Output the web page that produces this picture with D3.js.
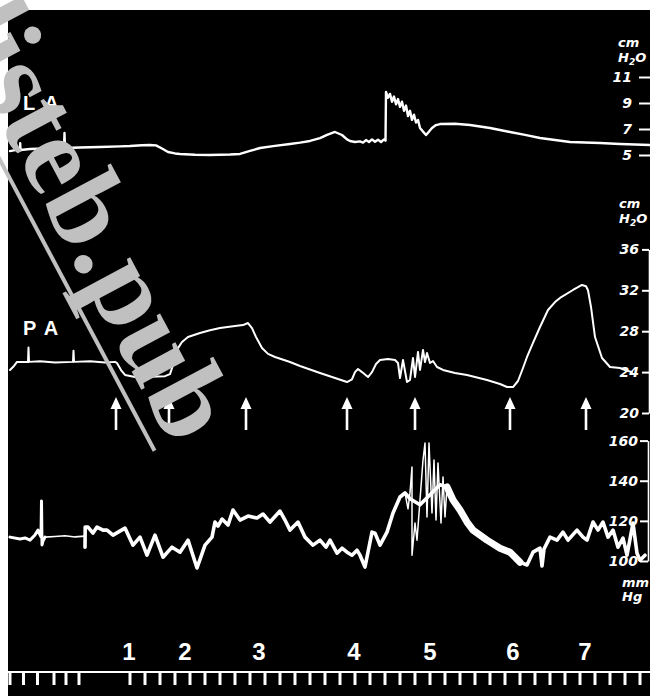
<!DOCTYPE html>
<html><head><meta charset="utf-8">
<script src="https://cdn.jsdelivr.net/npm/d3@7"></script>
<style>
html,body{margin:0;padding:0;background:#fff;}
svg{display:block;}
</style></head>
<body>
<svg id="c" width="650" height="696"></svg>
<script>
// ---------- DATA (time in s, pressures in cm H2O / mm Hg) ----------
const laTicks = [5, 7, 9, 11];
const paTicks = [20, 24, 28, 32, 36];
const bpTicks = [100, 120, 140, 160];

const laTrace = [[0,5.3],[0.5,5.38],[1.0,5.38],[1.02,5.9],[1.05,5.38],[2,5.46],[3.5,5.5],[5.0,5.54],[5.4,5.54],[5.45,6.69],[5.5,5.54],
 [7,5.58],[9,5.62],[11,5.66],[12,5.69],[13.2,5.75],[14,5.77],[14.6,5.74],[15.2,5.5],[15.8,5.23],[16.5,5.12],[17,5.08],[18.5,5.02],
 [20,5.0],[22,5.04],[23,5.08],[24,5.31],[25,5.54],[26.5,5.7],[28,5.85],[29,5.95],[30,6.08],[31,6.3],[31.7,6.55],[32.5,6.77],
 [33.2,6.54],[33.7,6.2],[34,6.08],[34.5,6.0],[35,6.05],[35.3,5.95],[35.6,6.15],[35.9,6.0],[36.2,6.2],[36.5,6.02],[36.8,6.18],
 [37.1,6.0],[37.4,6.2],[37.55,6.1],[37.6,9.85],[37.8,9.4],[38.0,9.7],[38.2,9.1],[38.4,9.5],[38.6,8.9],[38.8,9.3],[39.0,8.7],
 [39.2,9.1],[39.4,8.4],[39.6,8.8],[39.8,8.0],[40.0,8.4],[40.2,7.7],[40.4,8.1],[40.6,7.5],[40.8,7.7],[41.0,7.08],[41.3,6.8],
 [41.6,6.54],[41.9,6.8],[42.2,7.08],[42.6,7.3],[43,7.38],[44.5,7.4],[46,7.31],[48,7.08],[50,6.77],[51.5,6.55],[53,6.31],
 [54.5,6.15],[56,6.0],[59,5.92],[61,5.85],[64,5.77]];

const paTrace = [[0,24.2],[0.4,24.6],[0.7,25.0],[1.8,25.0],[1.85,26.4],[1.9,25.0],[3,25.05],[4.5,24.95],[6.3,25.0],[6.35,26.1],[6.4,25.0],
 [8,25.05],[9.5,24.95],[10.5,25.0],[10.7,24.89],[11.1,24.2],[11.5,23.72],[12.5,23.52],[14,23.55],[15.5,23.6],[16,23.8],[16.3,24.7],
 [16.7,26.2],[17.2,26.95],[17.8,27.43],[19,27.82],[20,28.1],[21,28.31],[22.5,28.51],[23.3,28.6],[23.8,28.8],[24.2,28.3],[24.6,27.43],
 [25.2,26.36],[25.8,25.78],[26.5,25.48],[28,24.99],[29,24.6],[31,23.91],[32.5,23.42],[33.7,23.03],[34.2,23.3],[34.5,24.0],[34.8,24.3],
 [35.2,24.0],[35.8,23.52],[36.2,24.0],[36.6,24.79],[37,25.18],[37.8,25.28],[38.5,25.18],[38.8,24.89],[39.0,23.42],[39.3,25.18],
 [39.7,23.03],[40.0,23.23],[40.3,25.38],[40.5,23.52],[40.8,25.97],[41.0,24.21],[41.3,26.16],[41.5,24.99],[41.7,25.87],[42.0,24.89],
 [42.3,25.08],[42.7,24.5],[43.3,24.21],[44.5,23.91],[45.7,23.72],[47.7,23.23],[49,22.84],[49.7,22.54],[50.3,22.54],[50.8,23.13],
 [51.3,24.4],[51.7,25.48],[52.3,26.85],[53,28.41],[53.8,30.07],[54.5,30.85],[55,31.25],[56.3,32.03],[57.2,32.52],[57.6,32.4],
 [57.8,32.0],[58.1,30.37],[58.5,27.43],[59.2,25.38],[60,24.5],[61,24.4],[61.5,24.2],[62.2,24.0]];

const bpStart = [[0,111.9],[1,111.0],[1.5,111.5],[2,110.4],[2.5,113],[2.8,115.4],[3.0,113],[3.1,112],[3.15,129.9],[3.2,108],[3.3,110],[3.5,111.9]];
const bpQuiet = [[3.5,111.9],[4.5,112.2],[5.5,112.6],[6.5,112.0],[7.5,112.4]];
const bpMain = [[7.5,106.9],[7.52,116.9],[7.8,116.9],[8.3,113.9],[8.7,116.9],[9.3,115.4],[9.7,115.4],[10.3,112.9],[11.5,116.4],
 [12.3,107.9],[13,111.9],[13.7,102.9],[14.5,112.9],[15.3,101.9],[16.2,106.9],[17,104.4],[17.8,110.4],[18.7,96.5],[19.5,107.9],
 [20.2,111.9],[20.5,119.4],[20.8,117.4],[21.2,120.9],[21.8,117.9],[22.3,125.4],[23,120.4],[23.8,122.4],[24.7,121.4],[25.3,123.4],
 [26,119.4],[27,124.9],[27.5,120.4],[28,115.4],[28.8,119.4],[29.5,111.9],[30.3,107.9],[31,110.4],[31.6,106.9],[32,110.4],
 [32.7,103.9],[33.2,106.4],[33.7,104.4],[34.2,102.9],[34.7,105.4],[35,102.9],[35.5,97.0],[36.2,114.4],[36.5,113.9],[37,107.9],
 [37.7,114.4],[38.3,123.9],[39,131.9],[39.5,133.9],[40,131],[41,128],[42,133],[43,138],[43.7,136.9],[44.3,130.4],[45,125.4],
 [45.7,119.4],[46.3,115.4],[47.7,110.4],[49,106.4],[50,104.4],[51,99.4],[51.7,98.0],[52.3,104.4],[53,106.4],[53.2,97.5],[53.4,106],
 [54,111.9],[54.7,110.4],[55.3,114.4],[55.8,110.4],[56.7,115.4],[57.3,111.9],[57.7,110.4],[58.3,119.4],[58.8,115.4],[59.3,119.4],
 [59.8,111.9],[60.3,115.4],[60.8,106.9],[61.3,111.4],[61.7,102.9],[62.3,118.9],[62.7,103.9],[63,100.4],[63.5,102.9]];
const bpBurst = [[39.5,133.9],[39.8,126],[40.0,134],[40.2,146.8],[40.2,102.9],[40.5,118.9],[40.7,110.4],[41.0,130.4],[41.3,150.3],
 [41.5,158.8],[41.7,121.9],[41.9,158.8],[42.2,123.9],[42.4,150.3],[42.6,120.4],[42.8,148.8],[43.1,118.9],[43.3,141.8],[43.5,121.9],[43.7,136.9]];

const arrowTimes = [10.6, 15.9, 23.6, 33.7, 40.5, 50.0, 57.6];
const eventLabels = ["1","2","3","4","5","6","7"];
const eventLabelTimes = [11.9, 17.5, 24.9, 34.4, 42.0, 50.3, 57.5];
const rulerTicks = [0,1.35,2.75,4.4,5.6,6.9,12,13.5,15,16.5,18,19.5,21,22.5,24,25.5,27,28.5,30,31.5,33,34.5,36,37.5,39,40.5,
 42,43.5,45,46.5,48,49.5,51,52.5,54,55.5,57,58.5,60,61.5,63];

// ---------- DRAW ----------
const svg = d3.select("#c");
svg.append("rect").attr("x",8).attr("y",10).attr("width",642).attr("height",686).attr("fill","#000");

const x = d3.scaleLinear().domain([0,64]).range([10,650]);
const laY = d3.scaleLinear().domain([5,11]).range([155,77]);
const paY = d3.scaleLinear().domain([20,36]).range([413,249.4]);
const bpY = d3.scaleLinear().domain([100,160]).range([561,440.6]);

const lineFor = y => d3.line().x(d=>x(d[0])).y(d=>y(d[1]));
const trace = (data, y, w) => svg.append("path").datum(data).attr("d", lineFor(y))
  .attr("fill","none").attr("stroke","#fff").attr("stroke-width",w)
  .attr("stroke-linejoin","round").attr("stroke-linecap","round");

trace(laTrace, laY, 2.4);
trace(paTrace, paY, 2);
trace(bpStart, bpY, 3);
trace(bpQuiet, bpY, 1.6);
trace(bpMain, bpY, 3.6);
trace(bpMain.filter(d=>d[0]>=43.5 && d[0]<=51.5), bpY, 7);
trace(bpBurst, bpY, 1.5);

// channel labels
const lab = (yy, s) => svg.append("text").attr("x",23).attr("y",yy).text(s)
  .attr("fill","#fff").attr("font-family","Liberation Sans, Arial, sans-serif")
  .attr("font-weight","bold").attr("font-size",20).attr("letter-spacing",9);
lab(110,"LA");
lab(335,"PA");

// axes
const hand = "DejaVu Sans, sans-serif";
const fmt = d3.format("d");
function styleAxis(g, keepDomain){
  g.selectAll("text").attr("fill","#fff").attr("font-family",hand).attr("font-style","italic")
    .attr("font-weight","bold").attr("font-size",14);
  g.selectAll("line").attr("stroke","#fff").attr("stroke-width",2);
  g.select(".domain").attr("stroke", keepDomain ? "#fff" : "none").attr("stroke-width",1.6);
}
const laAxis = svg.append("g").attr("transform","translate(650,0)")
  .call(d3.axisLeft(laY).tickValues(laTicks).tickFormat(fmt).tickSize(11).tickPadding(7).tickSizeOuter(0));
styleAxis(laAxis,false);
const paAxis = svg.append("g").attr("transform","translate(649,0)")
  .call(d3.axisLeft(paY).tickValues(paTicks).tickFormat(fmt).tickSize(7).tickPadding(3).tickSizeOuter(0));
styleAxis(paAxis,true);
const bpAxis = svg.append("g").attr("transform","translate(648,0)")
  .call(d3.axisLeft(bpY).tickValues(bpTicks).tickFormat(fmt).tickSize(8).tickPadding(2).tickSizeOuter(0));
styleAxis(bpAxis,true);

function unit(xx, y1, top, y2, bottom){
  const g = svg.append("g").attr("fill","#fff").attr("font-family",hand).attr("font-style","italic")
    .attr("font-size",13).attr("font-weight","bold");
  g.append("text").attr("x",xx).attr("y",y1).text(top);
  const t2 = g.append("text").attr("x",xx).attr("y",y2);
  if (bottom === "H2O") {
    t2.append("tspan").text("H");
    t2.append("tspan").attr("dy",3).attr("font-size",9).text("2");
    t2.append("tspan").attr("dy",-3).text("O");
  } else t2.text(bottom);
}
unit(618,47,"cm",62,"H2O");
unit(619,208,"cm",223,"H2O");
unit(622,587,"mm",601,"Hg");

// arrows
const arrows = svg.append("g").attr("fill","#fff").attr("stroke","#fff");
arrowTimes.forEach(t=>{
  const ax = x(t);
  arrows.append("line").attr("x1",ax).attr("x2",ax).attr("y1",404).attr("y2",430).attr("stroke-width",2.6);
  arrows.append("path").attr("stroke","none")
    .attr("d",`M${ax},397 L${ax-5.5},409 L${ax+5.5},409 Z`);
});

// event numbers
svg.append("g").selectAll("text").data(eventLabels).join("text")
  .attr("x",(d,i)=>x(eventLabelTimes[i])).attr("y",660).attr("text-anchor","middle")
  .attr("fill","#fff").attr("font-family","Liberation Sans, Arial, sans-serif").attr("font-weight","bold")
  .attr("font-size",24).text(d=>d);

// time ruler
svg.append("line").attr("x1",8).attr("x2",650).attr("y1",672).attr("y2",672).attr("stroke","#fff").attr("stroke-width",2);
svg.append("g").selectAll("line").data(rulerTicks).join("line")
  .attr("x1",d=>x(d)).attr("x2",d=>x(d)).attr("y1",672).attr("y2",685)
  .attr("stroke","#fff").attr("stroke-width",3);

// watermark
const wm = svg.append("g").attr("transform","translate(-52,26) rotate(62)");
wm.append("text").attr("x",0).attr("y",0).text("listeb.pub")
  .attr("fill","#c0c0c0").attr("font-family","Liberation Serif, Times New Roman, serif")
  .attr("font-weight","bold").attr("font-size",114);
wm.append("line").attr("x1",0).attr("x2",472).attr("y1",17).attr("y2",17).attr("stroke","#c0c0c0").attr("stroke-width",4);
</script>
</body></html>
